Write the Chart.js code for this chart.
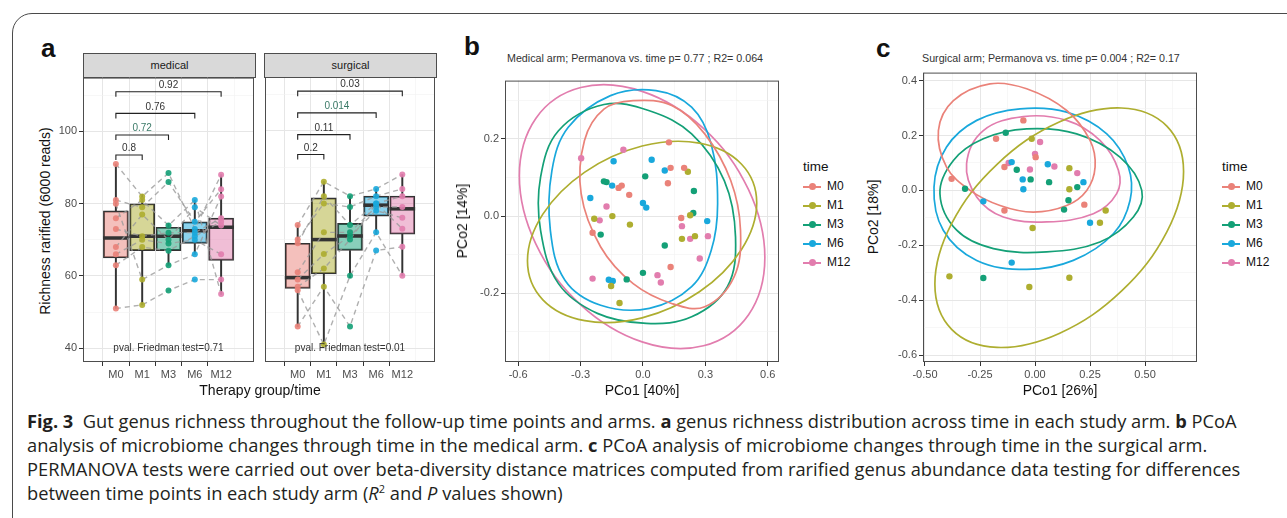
<!DOCTYPE html>
<html>
<head>
<meta charset="utf-8">
<script src="https://cdn.jsdelivr.net/npm/chart.js@4.4.1/dist/chart.umd.min.js"></script>
<style>
  body { margin: 0; width: 1287px; height: 518px; overflow: hidden; position: relative; background: #fff;
         font-family: 'Liberation Sans', Arial, sans-serif; }
  canvas { position: absolute; }
  .frame { position: absolute; left: 12px; top: 13px; width: 1400px; height: 540px;
           border: 1.3px solid #4a4a4a; border-radius: 20px; }
  .letter { position: absolute; font-weight: bold; font-size: 26px; line-height: 26px; color: #111; }
  .strip { position: absolute; background: #d9d9d9; border: 1px solid #4d4d4d; box-sizing: border-box;
           font-size: 11px; line-height: 22px; color: #1a1a1a; text-align: center; }
  .title { position: absolute; font-size: 10.7px; line-height: 12px; color: #333; white-space: nowrap; }
  .axt { position: absolute; font-size: 14px; color: #111; white-space: nowrap; transform: translate(-50%, -50%); }
  .rot { transform: translate(-50%, -50%) rotate(-90deg); }
  .leg { position: absolute; font-size: 12px; color: #111; }
  .leg .head { font-size: 13.5px; height: 20px; line-height: 20px; }
  .leg .row { height: 19px; line-height: 19px; position: relative; padding-left: 24px; }
  .leg .key { position: absolute; left: 0; top: 9px; width: 18px; height: 1.6px; }
  .leg .dot { position: absolute; left: 6px; top: 6.3px; width: 7px; height: 7px; border-radius: 50%; }
  .cap { position: absolute; left: 27px; font-family: 'Open Sans', sans-serif; font-size: 16px; line-height: 24px;
         color: #231f20; white-space: nowrap; }
  .cap sup { font-size: 0.6em; line-height: 0; }
</style>
</head>
<body>
<div class="frame"></div>

<div class="letter" style="left:41px;top:35px">a</div>
<div class="letter" style="left:464px;top:33px">b</div>
<div class="letter" style="left:876px;top:35px">c</div>

<div class="strip" style="left:83px;top:53px;width:173px;height:25px">medical</div>
<div class="strip" style="left:264px;top:53px;width:173px;height:25px">surgical</div>

<canvas id="medical" width="203" height="315" style="left:55px;top:69px;width:203px;height:315px"></canvas>
<canvas id="surgical" width="178" height="315" style="left:261px;top:69px;width:178px;height:315px"></canvas>
<canvas id="pcoaMed" width="314" height="312" style="left:469px;top:72px;width:314px;height:312px"></canvas>
<canvas id="pcoaSur" width="314" height="320" style="left:887px;top:64px;width:314px;height:320px"></canvas>

<div class="title" style="left:507px;top:52px">Medical arm; Permanova vs. time p= 0.77 ; R2= 0.064</div>
<div class="title" style="left:922px;top:52px">Surgical arm; Permanova vs. time p= 0.004 ; R2= 0.17</div>

<div class="axt rot" style="left:45px;top:221px">Richness rarified (6000 reads)</div>
<div class="axt" style="left:260px;top:390px">Therapy group/time</div>
<div class="axt rot" style="left:462px;top:221px">PCo2 [14%]</div>
<div class="axt" style="left:642px;top:390px">PCo1 [40%]</div>
<div class="axt rot" style="left:873px;top:217px">PCo2 [18%]</div>
<div class="axt" style="left:1060px;top:390px">PCo1 [26%]</div>

<div class="leg" id="legMed" style="left:803px;top:157px"></div>
<div class="leg" id="legSur" style="left:1222px;top:157px"></div>

<div class="cap" style="top:409px"><b>Fig. 3</b>&nbsp; Gut genus richness throughout the follow-up time points and arms. <b>a</b> genus richness distribution across time in each study arm. <b>b</b> PCoA</div>
<div class="cap" style="top:433px">analysis of microbiome changes through time in the medical arm. <b>c</b> PCoA analysis of microbiome changes through time in the surgical arm.</div>
<div class="cap" id="capWide" style="top:457px">PERMANOVA tests were carried out over beta-diversity distance matrices computed from rarified genus abundance data testing for differences</div>
<div class="cap" style="top:481px">between time points in each study arm (<i>R</i><sup>2</sup> and <i>P</i> values shown)</div>

<script>
// time points and their colours
const times = ['M0', 'M1', 'M3', 'M6', 'M12'];
const timeColors = ['#ea8279', '#aeae30', '#14a077', '#19a8dc', '#e27dae'];

// panel a, box statistics
const medMin = [51, 52, 63, 66, 55];
const medQ1 = [65, 67, 67, 69, 64.3];
const medMed = [70.5, 71, 71, 72.5, 73.5];
const medQ3 = [78, 80, 73.5, 75, 76];
const medMax = [91, 82.5, 74.5, 81, 88];

const surMin = [46, 41, 59.5, 71.5, 60];
const surQ1 = [56.5, 60.5, 67, 76.5, 71.5];
const surMed = [59.5, 70, 71, 79.5, 78.5];
const surQ3 = [69, 81.5, 74.5, 82, 82];
const surMax = [74, 86, 82, 84, 88];

// richness per subject at M0, M1, M3, M6, M12
const medSubjects = [
  [51, 52, 56, 59, 59],
  [91, 82, 88.5, 73, 88],
  [81, 79, 86, 75, 84],
  [80, 59, 63, 66, 82],
  [76, 81, 74, 81, 55],
  [73, 71, 72, 72, 76],
  [68, 77, 70, 79, 74],
  [66, 70, 69, 70, 66],
  [63, 68, 67, 71, 75]
];
const surSubjects = [
  [56, 41, 60, 72, 60],
  [46, 57, 46, 67, 68],
  [74, 86, 82, 84, 88],
  [70, 80, 79, 82, 84],
  [69, 82, 74, 80, 82],
  [61, 72, 72, 79, 79],
  [59, 66, 71, 78, 76],
  [57, 62, 70, 80, 73]
];

// M0 vs M1, M3, M6, M12
const bracketLevels = [93.5, 99, 105, 111];
const medP = ['0.8', '0.72', '0.76', '0.92'];
const surP = ['0.2', '0.11', '0.014', '0.03'];
const medFriedman = 'pval. Friedman test=0.71';
const surFriedman = 'pval. Friedman test=0.01';

const richTicks = [40, 50, 60, 70, 80, 90, 100, 110];
const richMajor = [40, 60, 80, 100];

// panel b, medical arm PCoA
const medPts = [
  [[0.125, 0.191], [0.133, 0.125], [0.198, 0.125], [0.120, 0.085], [-0.117, 0.073], [-0.102, 0.079], [-0.066, 0.055], [0.184, -0.005], [-0.242, -0.043], [0.133, -0.132]],
  [[0.216, 0.115], [-0.234, -0.007], [-0.147, 0.0], [-0.0625, -0.022], [0.227, 0.002], [0.1875, -0.059], [0.25, -0.052], [-0.153, -0.181], [-0.1125, -0.225]],
  [[-0.1875, 0.090], [-0.175, 0.088], [0.011, 0.103], [0.245, 0.065], [0.242, 0.008], [-0.203, -0.048], [0.105, -0.076], [-0.078, -0.164], [0.0, -0.147]],
  [[-0.141, 0.142], [0.042, 0.146], [0.105, 0.118], [-0.148, 0.079], [-0.253, 0.047], [0.0, 0.034], [0.016, 0.022], [0.309, -0.013], [-0.164, -0.165], [-0.145, -0.168]],
  [[-0.297, 0.150], [-0.094, 0.172], [-0.175, 0.025], [-0.208, -0.011], [0.1875, -0.026], [0.227, -0.059], [0.3125, -0.052], [0.273, -0.110], [-0.242, -0.162], [0.070, -0.153], [0.086, -0.172]]
];
const medEll = [
  [[-0.047, 0.299], [0.141, 0.286], [0.297, 0.213], [0.422, 0.092], [0.469, -0.037], [0.4375, -0.158], [0.297, -0.235], [0.141, -0.227], [-0.047, -0.175], [-0.203, -0.080], [-0.297, 0.058], [-0.281, 0.196], [-0.1875, 0.277]],
  [[0.547, 0.034], [0.473, 0.135], [0.2715, 0.189], [-0.004, 0.1815], [-0.2795, 0.114], [-0.481, 0.005], [-0.555, -0.116], [-0.481, -0.217], [-0.2795, -0.271], [-0.004, -0.2635], [0.2715, -0.196], [0.473, -0.087]],
  [[-0.1875, 0.289], [0.031, 0.273], [0.234, 0.213], [0.391, 0.092], [0.445, -0.054], [0.406, -0.183], [0.234, -0.261], [0.016, -0.278], [-0.219, -0.252], [-0.406, -0.175], [-0.492, -0.037], [-0.492, 0.101], [-0.406, 0.221]],
  [[0.0625, 0.325], [0.234, 0.282], [0.328, 0.187], [0.359, 0.032], [0.328, -0.089], [0.234, -0.183], [0.031, -0.239], [-0.203, -0.231], [-0.375, -0.166], [-0.445, -0.037], [-0.4375, 0.118], [-0.359, 0.230], [-0.156, 0.312]],
  [[0.586, -0.107], [0.507, 0.069], [0.291, 0.227], [-0.004, 0.323], [-0.299, 0.333], [-0.515, 0.253], [-0.594, 0.104], [-0.515, -0.072], [-0.299, -0.230], [-0.004, -0.326], [0.291, -0.336], [0.507, -0.256]]
];

// panel c, surgical arm PCoA
const surPts = [
  [[-0.379, 0.042], [-0.177, 0.188], [-0.139, 0.085], [-0.053, 0.255], [0.003, 0.121], [0.224, -0.052], [-0.139, -0.073]],
  [[-0.015, 0.188], [0.156, 0.081], [0.156, 0.004], [0.321, -0.073], [0.295, -0.118], [-0.011, -0.137], [-0.389, -0.313], [-0.026, -0.352], [0.156, -0.318]],
  [[-0.133, 0.210], [-0.318, 0.006], [-0.083, 0.075], [-0.020, 0.040], [0.064, 0.030], [0.192, 0.012], [0.152, -0.036], [0.132, -0.070], [-0.235, -0.319]],
  [[-0.235, -0.040], [-0.106, 0.103], [-0.056, 0.040], [-0.053, 0.004], [0.058, 0.095], [0.220, 0.030], [0.25, -0.118], [-0.106, -0.263]],
  [[0.023, 0.176], [0.0, 0.133], [-0.023, 0.076], [0.088, 0.087], [0.192, 0.063], [-0.12, 0.10]]
];
const surEll = [
  [[-0.439, 0.218], [-0.371, 0.327], [-0.205, 0.388], [-0.038, 0.370], [0.144, 0.291], [0.25, 0.182], [0.273, 0.085], [0.235, 0.0], [0.144, -0.055], [-0.008, -0.079], [-0.159, -0.055], [-0.295, 0.0], [-0.402, 0.085]],
  [[0.675, 0.069], [0.599, 0.234], [0.3925, 0.300], [0.11, 0.249], [-0.1725, 0.095], [-0.379, -0.121], [-0.455, -0.341], [-0.379, -0.506], [-0.1725, -0.572], [0.11, -0.521], [0.3925, -0.367], [0.599, -0.151]],
  [[-0.432, -0.012], [-0.371, 0.109], [-0.235, 0.188], [-0.038, 0.224], [0.189, 0.206], [0.386, 0.121], [0.485, 0.0], [0.447, -0.097], [0.295, -0.188], [0.053, -0.224], [-0.189, -0.212], [-0.356, -0.145]],
  [[-0.459, 0.012], [-0.402, 0.158], [-0.265, 0.255], [-0.068, 0.297], [0.144, 0.285], [0.326, 0.206], [0.424, 0.085], [0.432, -0.036], [0.356, -0.158], [0.174, -0.255], [-0.038, -0.288], [-0.265, -0.255], [-0.417, -0.145]],
  [[-0.311, 0.097], [-0.235, 0.218], [-0.053, 0.269], [0.144, 0.255], [0.295, 0.182], [0.379, 0.073], [0.371, -0.012], [0.265, -0.085], [0.053, -0.115], [-0.144, -0.097], [-0.265, -0.024]]
];

const medXTicks = [-0.6, -0.45, -0.3, -0.15, 0, 0.15, 0.3, 0.45, 0.6];
const medXMajor = [-0.6, -0.3, 0, 0.3, 0.6];
const medYTicks = [-0.3, -0.2, -0.1, 0, 0.1, 0.2, 0.3];
const medYMajor = [-0.2, 0, 0.2];
const surXTicks = [-0.5, -0.375, -0.25, -0.125, 0, 0.125, 0.25, 0.375, 0.5, 0.625];
const surXMajor = [-0.5, -0.25, 0, 0.25, 0.5];
const surYTicks = [-0.6, -0.5, -0.4, -0.3, -0.2, -0.1, 0, 0.1, 0.2, 0.3, 0.4];
const surYMajor = [-0.6, -0.4, -0.2, 0, 0.2, 0.4];

const FONT = "'Liberation Sans', Arial, sans-serif";
const isIn = (v, list) => list.some(m => Math.abs(m - v) < 1e-9);
const major = (c, list) => !!(c && c.tick) && isIn(c.tick.value, list);

function alpha(hex, a) {
  const n = parseInt(hex.slice(1), 16);
  return 'rgba(' + (n >> 16) + ',' + ((n >> 8) & 255) + ',' + (n & 255) + ',' + a + ')';
}

// ggplot-ish axis: fixed tick list, labels only on majors, thin minor grid
function axis(min, max, tickVals, majors, fmt, size, showLabels) {
  return {
    type: 'linear', min: min, max: max,
    afterBuildTicks: s => { s.ticks = tickVals.map(v => ({ value: v })); },
    afterFit: s => { if (s.isHorizontal()) s.height = size; else s.width = size; },
    grid: {
      color: c => major(c, majors) ? '#e6e6e6' : '#f1f1f1',
      lineWidth: c => major(c, majors) ? 1 : 0.6,
      tickColor: c => (showLabels && major(c, majors)) ? '#333' : 'rgba(0,0,0,0)',
      tickLength: 4, tickWidth: 1, drawTicks: showLabels
    },
    border: { display: false },
    ticks: {
      display: showLabels, autoSkip: false, maxRotation: 0, padding: 2,
      color: '#4d4d4d', font: { family: FONT, size: 11 },
      callback: v => isIn(v, majors) ? fmt(v) : ''
    }
  };
}

const panelBox = {
  id: 'panelBox',
  afterDatasetsDraw(chart) {
    const a = chart.chartArea, ctx = chart.ctx;
    ctx.save();
    ctx.strokeStyle = '#4d4d4d';
    ctx.lineWidth = 1;
    ctx.strokeRect(a.left + 0.5, a.top + 0.5, a.right - a.left - 1, a.bottom - a.top - 1);
    ctx.restore();
  }
};

// let the ellipse lines close on themselves the way radar lines do
const closedCurves = {
  id: 'closedCurves',
  beforeDatasetsDraw(chart) {
    chart.data.datasets.forEach((ds, i) => {
      if (!ds.closed) return;
      const line = chart.getDatasetMeta(i).dataset;
      line._loop = true;
      line._fullLoop = true;
      line._pointsUpdated = false;
      delete line._segments;
      delete line._path;
    });
  }
};

function annotations(pLabels, friedman) {
  return {
    id: 'brackets',
    afterDatasetsDraw(chart) {
      const x = chart.scales.x, y = chart.scales.y, ctx = chart.ctx;
      ctx.save();
      ctx.strokeStyle = '#222';
      ctx.lineWidth = 1.1;
      ctx.font = '10px ' + FONT;
      ctx.textAlign = 'center';
      ctx.textBaseline = 'bottom';
      bracketLevels.forEach((lvl, k) => {
        const x1 = x.getPixelForValue(0), x2 = x.getPixelForValue(k + 1);
        const py = y.getPixelForValue(lvl), drop = y.getPixelForValue(lvl - 1.4);
        ctx.beginPath();
        ctx.moveTo(x1, drop); ctx.lineTo(x1, py); ctx.lineTo(x2, py); ctx.lineTo(x2, drop);
        ctx.stroke();
        ctx.fillStyle = (pLabels[k] === '0.72' || pLabels[k] === '0.014') ? '#3b7a68' : '#333';
        ctx.fillText(pLabels[k], (x1 + x2) / 2, py - 1.5);
      });
      ctx.fillStyle = '#333';
      ctx.textBaseline = 'middle';
      ctx.fillText(friedman, x.getPixelForValue(2), y.getPixelForValue(40));
      ctx.restore();
    }
  };
}

function boxChart(id, mins, q1s, meds, q3s, maxs, subjects, pLabels, friedman, showY) {
  const at = (arr) => arr.map((v, i) => ({ x: i, y: v }));
  const datasets = [
    { type: 'bar', data: times.map((t, i) => ({ x: i, y: [mins[i], q1s[i]] })), backgroundColor: '#333',
      barThickness: 1.3, grouped: false, order: 6 },
    { type: 'bar', data: times.map((t, i) => ({ x: i, y: [q3s[i], maxs[i]] })), backgroundColor: '#333',
      barThickness: 1.3, grouped: false, order: 6 },
    { type: 'bar', data: times.map((t, i) => ({ x: i, y: [q1s[i], q3s[i]] })),
      backgroundColor: timeColors.map(c => alpha(c, 0.5)), borderColor: '#333', borderWidth: 1.3,
      borderSkipped: false, barThickness: 25, grouped: false, order: 5 },
    { type: 'bar', data: times.map((t, i) => ({ x: i, y: [meds[i] - 0.4, meds[i] + 0.4] })), backgroundColor: '#333',
      barThickness: 25, grouped: false, order: 4 }
  ];
  subjects.forEach(s => datasets.push({
    type: 'line', data: at(s), borderColor: 'rgba(155,155,155,0.8)', borderWidth: 1.4,
    borderDash: [5, 4], pointRadius: 0, fill: false, order: 2
  }));
  times.forEach((t, i) => datasets.push({
    type: 'scatter', data: subjects.map(s => ({ x: i, y: s[i] })), backgroundColor: alpha(timeColors[i], 0.9),
    borderWidth: 0, pointRadius: 3, order: 1
  }));

  new Chart(document.getElementById(id), {
    type: 'bar',
    data: { datasets: datasets },
    options: {
      responsive: false, animation: false, events: [],
      layout: { padding: { top: 8, right: 3, left: showY ? 0 : 3, bottom: 0 } },
      plugins: { legend: { display: false }, tooltip: { enabled: false } },
      scales: {
        x: axis(-0.6, 4.6, [0, 1, 2, 3, 4], [0, 1, 2, 3, 4], v => times[v], 22, true),
        y: axis(36.2, 114.9, richTicks, richMajor, v => String(v), showY ? 28 : 0, showY)
      }
    },
    plugins: [panelBox, annotations(pLabels, friedman)]
  });
}

function pcoaChart(id, xr, yr, xt, xm, xf, yt, ym, yf, ellipses, points) {
  const datasets = [];
  ellipses.forEach((e, i) => datasets.push({
    type: 'line', closed: true, data: e.map(p => ({ x: p[0], y: p[1] })), borderColor: timeColors[i],
    borderWidth: 1.7, tension: 0.37, pointRadius: 0, fill: false, order: 2
  }));
  points.forEach((p, i) => datasets.push({
    type: 'scatter', data: p.map(q => ({ x: q[0], y: q[1] })), backgroundColor: timeColors[i],
    borderWidth: 0, pointRadius: 3.2, order: 1
  }));
  new Chart(document.getElementById(id), {
    type: 'scatter',
    data: { datasets: datasets },
    options: {
      responsive: false, animation: false, events: [],
      layout: { padding: { top: 8, right: 4, left: 0, bottom: 0 } },
      plugins: { legend: { display: false }, tooltip: { enabled: false } },
      elements: { line: { capBezierPoints: false } },
      scales: {
        x: axis(xr[0], xr[1], xt, xm, xf, 22, true),
        y: axis(yr[0], yr[1], yt, ym, yf, 36, true)
      }
    },
    plugins: [closedCurves, panelBox]
  });
}

function legend(id) {
  const box = document.getElementById(id);
  let html = '<div class="head">time</div>';
  times.forEach((t, i) => {
    html += '<div class="row"><span class="key" style="background:' + timeColors[i] + '"></span>' +
      '<span class="dot" style="background:' + timeColors[i] + '"></span>' + t + '</div>';
  });
  box.innerHTML = html;
}

legend('legMed');
legend('legSur');

// fit caption font so the long lines end where the printed ones do
const wide = document.getElementById('capWide');
const fs = 16 * 1214 / wide.offsetWidth;
document.querySelectorAll('.cap').forEach(el => { el.style.fontSize = fs.toFixed(2) + 'px'; });

boxChart('medical', medMin, medQ1, medMed, medQ3, medMax, medSubjects, medP, medFriedman, true);
boxChart('surgical', surMin, surQ1, surMed, surQ3, surMax, surSubjects, surP, surFriedman, false);

pcoaChart('pcoaMed', [-0.663, 0.654], [-0.378, 0.351], medXTicks, medXMajor, v => v.toFixed(1),
  medYTicks, medYMajor, v => v.toFixed(1), medEll, medPts);
pcoaChart('pcoaSur', [-0.509, 0.736], [-0.625, 0.429], surXTicks, surXMajor, v => v.toFixed(2),
  surYTicks, surYMajor, v => v.toFixed(1), surEll, surPts);
</script>
</body>
</html>
